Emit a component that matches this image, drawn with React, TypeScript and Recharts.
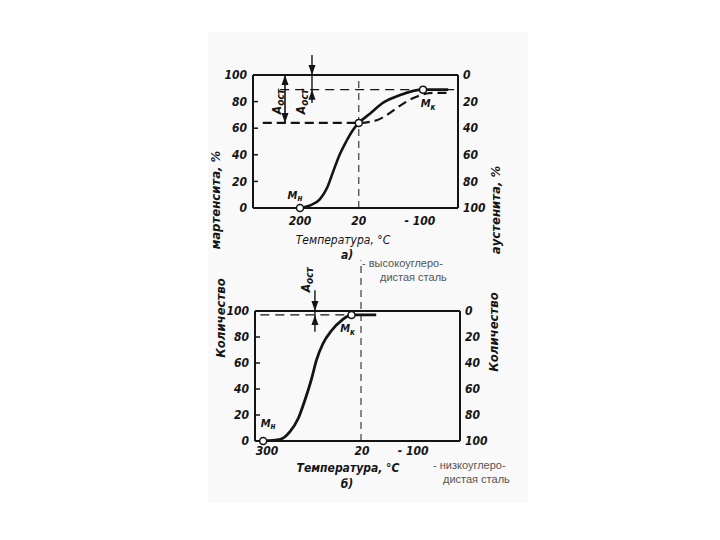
import React from "react";
import {
  ComposedChart,
  Line,
  XAxis,
  YAxis,
  ReferenceLine,
  ReferenceDot,
} from "recharts";

// x = position along the (non-uniform) temperature scale, 1 unit per tick gap
// top chart (а): high-carbon steel
const topTickPos = [0, 0.98, 2];
const topTickLabels = ["200", "20", "- 100"];
const topMartensite = [
  { x: 0, y: 0 },
  { x: 0.17, y: 2 },
  { x: 0.33, y: 6.5 },
  { x: 0.45, y: 15 },
  { x: 0.55, y: 27 },
  { x: 0.65, y: 39 },
  { x: 0.77, y: 50 },
  { x: 0.88, y: 58.5 },
  { x: 0.98, y: 64 },
  { x: 1.17, y: 71 },
  { x: 1.38, y: 79 },
  { x: 1.67, y: 85 },
  { x: 2.05, y: 89 },
  { x: 2.47, y: 89 },
];
const topDashed = [
  { x: -0.62, y: 64 },
  { x: 0.98, y: 64 },
  { x: 1.28, y: 66 },
  { x: 1.45, y: 70 },
  { x: 1.67, y: 77 },
  { x: 1.88, y: 82.5 },
  { x: 2.22, y: 86.5 },
  { x: 2.5, y: 86.5 },
];
const topMn = { x: 0, y: 0 };
const topMid = { x: 0.98, y: 64 };
const topMk = { x: 2.05, y: 89 };
const topAust = 89; // level of retained austenite line

// bottom chart (б): low-carbon steel
const botTickPos = [0, 1, 1.54];
const botTickLabels = ["300", "20", "- 100"];
const botMartensite = [
  { x: -0.04, y: 0 },
  { x: 0.14, y: 1.3 },
  { x: 0.24, y: 7 },
  { x: 0.33, y: 17.5 },
  { x: 0.4, y: 31.5 },
  { x: 0.47, y: 48 },
  { x: 0.52, y: 62 },
  { x: 0.59, y: 75 },
  { x: 0.68, y: 85 },
  { x: 0.79, y: 93 },
  { x: 0.89, y: 97 },
  { x: 1.15, y: 97 },
];
const botMn = { x: -0.04, y: 0 };
const botMk = { x: 0.89, y: 97 };
const botAust = 97;

const leftTicks = [0, 20, 40, 60, 80, 100];
const rightTicks = [0, 20, 40, 60, 80, 100];

const INK = "#141414";
const FIG_FONT = '"DejaVu Sans Condensed", "DejaVu Sans", sans-serif';
const tickStyle = {
  fontSize: 12,
  fontStyle: "italic",
  fontWeight: 700,
  fill: INK,
  fontFamily: FIG_FONT,
};

function ArrowUp(props: any) {
  const { cx, cy } = props;
  return <polygon points={`${cx},${cy} ${cx - 3.5},${cy + 10} ${cx + 3.5},${cy + 10}`} fill={INK} />;
}

function ArrowDown(props: any) {
  const { cx, cy } = props;
  return <polygon points={`${cx},${cy} ${cx - 3.5},${cy - 10} ${cx + 3.5},${cy - 10}`} fill={INK} />;
}

function markedDot(sub: string, dx: number, dy: number) {
  return (props: any) => {
    const { cx, cy } = props;
    return (
      <g>
        <circle cx={cx} cy={cy} r={3.5} fill="#fff" stroke={INK} strokeWidth={1.5} />
        {sub && (
          <text
            x={cx + dx}
            y={cy + dy}
            textAnchor="middle"
            dominantBaseline="central"
            fontFamily={FIG_FONT}
            fontStyle="italic"
            fontWeight={700}
            fontSize={11}
            fill={INK}
          >
            M
            <tspan fontSize={8} dy={3}>
              {sub}
            </tspan>
          </text>
        )}
      </g>
    );
  };
}

function AostLabel(props: any) {
  const { cx, cy } = props;
  return (
    <text
      x={cx}
      y={cy}
      transform={`rotate(-90 ${cx} ${cy})`}
      textAnchor="middle"
      dominantBaseline="central"
      fontFamily={FIG_FONT}
      fontStyle="italic"
      fontWeight={700}
      fontSize={12}
      fill={INK}
    >
      A
      <tspan fontSize={10} dy={3}>
        ост
      </tspan>
    </text>
  );
}

function Axes({ ticks, labels, domain, bottomMargin }: any) {
  return [
    <XAxis
      key="x"
      xAxisId={0}
      type="number"
      dataKey="x"
      domain={domain}
      ticks={ticks}
      allowDataOverflow
      tickFormatter={(v: number) => labels[ticks.indexOf(v)] ?? ""}
      tick={tickStyle}
      tickLine={false}
      tickSize={0}
      tickMargin={bottomMargin}
      axisLine={{ stroke: INK, strokeWidth: 2 }}
      height={30}
    />,
    <YAxis
      key="yl"
      yAxisId="l"
      domain={[0, 100]}
      ticks={leftTicks}
      allowDataOverflow
      tick={tickStyle}
      tickSize={-5}
      tickMargin={11}
      tickLine={{ stroke: INK, strokeWidth: 1.5 }}
      axisLine={{ stroke: INK, strokeWidth: 2 }}
      width={30}
    />,
    <YAxis
      key="yr"
      yAxisId="r"
      orientation="right"
      reversed
      domain={[0, 100]}
      ticks={rightTicks}
      allowDataOverflow
      tick={{ ...tickStyle, textAnchor: "start" }}
      tickLine={false}
      tickSize={0}
      tickMargin={5}
      axisLine={{ stroke: INK, strokeWidth: 2 }}
      width={30}
    />,
  ];
}

function TopChart() {
  return (
    <ComposedChart
      width={300}
      height={230}
      margin={{ top: 35, right: 12, left: 23, bottom: 32 }}
    >
      {Axes({ ticks: topTickPos, labels: topTickLabels, domain: [-0.783, 2.633], bottomMargin: 8 })}
      <ReferenceLine yAxisId="l" y={100} stroke={INK} strokeWidth={2} />
      <ReferenceLine yAxisId="l" x={topMid.x} stroke={INK} strokeWidth={1} strokeDasharray="7 5" />
      <ReferenceLine
        yAxisId="l"
        segment={[{ x: -0.33, y: topAust }, { x: 2.6, y: topAust }]}
        stroke={INK}
        strokeWidth={1.2}
        strokeDasharray="9 6"
      />
      <Line
        yAxisId="l"
        data={topDashed}
        dataKey="y"
        type="monotone"
        stroke={INK}
        strokeWidth={2.2}
        strokeDasharray="9 5"
        dot={false}
        isAnimationActive={false}
      />
      <Line
        yAxisId="l"
        data={topMartensite}
        dataKey="y"
        type="monotone"
        stroke={INK}
        strokeWidth={2.6}
        dot={false}
        isAnimationActive={false}
      />
      {/* A_ост arrows */}
      <ReferenceLine
        yAxisId="l"
        segment={[{ x: -0.25, y: 100 }, { x: -0.25, y: 64 }]}
        stroke={INK}
        strokeWidth={1.6}
      />
      <ReferenceDot yAxisId="l" x={-0.25} y={100} shape={ArrowUp} />
      <ReferenceDot yAxisId="l" x={-0.25} y={64} shape={ArrowDown} />
      <ReferenceLine
        yAxisId="l"
        segment={[{ x: 0.2, y: 115 }, { x: 0.2, y: 79 }]}
        stroke={INK}
        strokeWidth={1.4}
        ifOverflow="visible"
      />
      <ReferenceDot yAxisId="l" x={0.2} y={100} shape={ArrowDown} ifOverflow="visible" />
      <ReferenceDot yAxisId="l" x={0.2} y={topAust} shape={ArrowUp} />
      <ReferenceDot yAxisId="l" x={-0.38} y={80} shape={AostLabel} />
      <ReferenceDot yAxisId="l" x={0.02} y={80} shape={AostLabel} />
      <ReferenceDot yAxisId="l" x={topMn.x} y={topMn.y} shape={markedDot("н", -5, -13)} ifOverflow="visible" />
      <ReferenceDot yAxisId="l" x={topMid.x} y={topMid.y} shape={markedDot("", 0, 0)} />
      <ReferenceDot yAxisId="l" x={topMk.x} y={topMk.y} shape={markedDot("к", 5, 14)} />
    </ComposedChart>
  );
}

function BottomChart() {
  return (
    <ComposedChart
      width={300}
      height={230}
      margin={{ top: 61, right: 10, left: 25, bottom: 9 }}
    >
      {Axes({ ticks: botTickPos, labels: botTickLabels, domain: [-0.126, 2.032], bottomMargin: 5 })}
      <ReferenceLine yAxisId="l" y={100} stroke={INK} strokeWidth={2} />
      <ReferenceLine
        yAxisId="l"
        segment={[{ x: 0.99, y: 0 }, { x: 0.99, y: 139 }]}
        stroke={INK}
        strokeWidth={1}
        strokeDasharray="7 5"
        ifOverflow="visible"
      />
      <ReferenceLine
        yAxisId="l"
        segment={[{ x: -0.07, y: botAust }, { x: botMk.x, y: botAust }]}
        stroke={INK}
        strokeWidth={1.2}
        strokeDasharray="9 6"
      />
      <Line
        yAxisId="l"
        data={botMartensite}
        dataKey="y"
        type="monotone"
        stroke={INK}
        strokeWidth={2.8}
        dot={false}
        isAnimationActive={false}
      />
      <ReferenceLine
        yAxisId="l"
        segment={[{ x: 0.505, y: 116 }, { x: 0.505, y: 84 }]}
        stroke={INK}
        strokeWidth={1.4}
        ifOverflow="visible"
      />
      <ReferenceDot yAxisId="l" x={0.505} y={100} shape={ArrowDown} ifOverflow="visible" />
      <ReferenceDot yAxisId="l" x={0.505} y={botAust} shape={ArrowUp} />
      <ReferenceDot yAxisId="l" x={0.41} y={124} shape={AostLabel} ifOverflow="visible" />
      <ReferenceDot yAxisId="l" x={botMn.x} y={botMn.y} shape={markedDot("н", 5, -18)} ifOverflow="visible" />
      <ReferenceDot yAxisId="l" x={botMk.x} y={botMk.y} shape={markedDot("к", -4, 14)} />
    </ComposedChart>
  );
}

const figText = {
  fontFamily: FIG_FONT,
  fontStyle: "italic",
  fontWeight: 700,
  fontSize: 13,
  fill: INK,
  textAnchor: "middle",
  dominantBaseline: "central",
} as const;

const noteText = {
  fontFamily: '"Liberation Sans", Arial, sans-serif',
  fontSize: 11,
  fill: "#555",
  dominantBaseline: "central",
} as const;

export default function App() {
  return (
    <div style={{ position: "absolute", left: 0, top: 0, width: 720, height: 540, background: "#fff", overflow: "hidden" }}>
      <div style={{ position: "absolute", left: 208, top: 32, width: 320, height: 471, background: "#f9f9f9" }} />
      <div style={{ position: "absolute", left: 200, top: 40 }}>
        <TopChart />
      </div>
      <div style={{ position: "absolute", left: 200, top: 250 }}>
        <BottomChart />
      </div>
      <svg width={720} height={540} style={{ position: "absolute", left: 0, top: 0, pointerEvents: "none" }}>
        <text {...figText} x={215} y={200} transform="rotate(-90 215 200)">мартенсита, %</text>
        <text {...figText} x={220} y={318} transform="rotate(-90 220 318)">Количество</text>
        <text {...figText} x={495} y={210} transform="rotate(-90 495 210)">аустенита, %</text>
        <text {...figText} x={493} y={332} transform="rotate(-90 493 332)">Количество</text>
        <text {...figText} x={343} y={240} fontSize={12} fontWeight={400}>Температура, °С</text>
        <text {...figText} x={347} y={255} fontSize={12}>а)</text>
        <text {...figText} x={348} y={468} fontSize={12}>Температура, °С</text>
        <text {...figText} x={347} y={484} fontSize={12}>б)</text>
        <text {...noteText} x={362} y={263}>- высокоуглеро-</text>
        <text {...noteText} x={380} y={277}>дистая сталь</text>
        <text {...noteText} x={433} y={465}>- низкоуглеро-</text>
        <text {...noteText} x={443} y={479}>дистая сталь</text>
      </svg>
    </div>
  );
}
